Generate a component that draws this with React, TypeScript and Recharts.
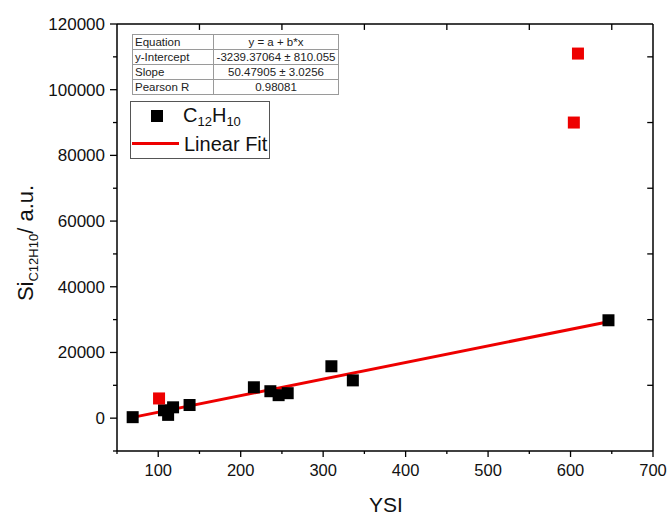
import React from 'react';
import { ScatterChart, Scatter, XAxis, YAxis, ReferenceLine } from 'recharts';

// YSI vs signal, C12H10
const blackX = [69, 107, 112, 118, 138, 216, 236, 246, 257, 310, 336, 646];
const blackY = [300, 2400, 1000, 3300, 4000, 9400, 8200, 7000, 7600, 15800, 11500, 29800];
const redX = [101, 604, 609];
const redY = [6000, 90000, 111000];

// fit parameters as printed in the table
const intercept = -3239.37064;
const slope = 50.47905;
const fitX = [69, 646];

const xDomain = [50, 700];
const yDomain = [-10000, 120000];
const xTicks = [50, 100, 150, 200, 250, 300, 350, 400, 450, 500, 550, 600, 650, 700];
const xTopTicks = [150, 250, 350, 450, 550, 650];
const yTicks = [-10000, 0, 10000, 20000, 30000, 40000, 50000, 60000, 70000, 80000, 90000, 100000, 110000, 120000];
const yRightTicks = [10000, 30000, 50000, 70000, 90000, 110000];

const tableRows = [
  ['Equation', 'y = a + b*x'],
  ['y-Intercept', '-3239.37064 ± 810.055'],
  ['Slope', '50.47905 ± 3.0256'],
  ['Pearson R', '0.98081'],
];

const black = blackX.map((x, i) => ({ x, y: blackY[i] }));
const red = redX.map((x, i) => ({ x, y: redY[i] }));

const FONT = '"Liberation Sans", Arial, sans-serif';

// inner tick lengths of the frame, in data units (~6px)
const topTickLen = 1800;
const rightTickLen = 7;

function BottomTick(props: any) {
  const { x, y, payload } = props;
  const major = payload.value % 100 === 0;
  return (
    <g>
      <line x1={x} x2={x} y1={y} y2={y + (major ? 6 : 3)} stroke='#000' strokeWidth={1.3} />
      {major && (
        <text x={x} y={y + 25} textAnchor='middle' fontSize={16.5} fontFamily={FONT} fill='#111'>
          {payload.value}
        </text>
      )}
    </g>
  );
}

function LeftTick(props: any) {
  const { x, y, payload } = props;
  const major = payload.value % 20000 === 0;
  return (
    <g>
      <line x1={x - (major ? 7 : 4)} x2={x} y1={y} y2={y} stroke='#000' strokeWidth={1.3} />
      {major && (
        <text x={x - 12} y={y + 6} textAnchor='end' fontSize={17} fontFamily={FONT} fill='#111'>
          {payload.value}
        </text>
      )}
    </g>
  );
}

const square = (color: string) => (p: any) => (
  <rect x={p.cx - 6} y={p.cy - 6} width={12} height={12} fill={color} />
);

export default function App() {
  return (
    <div style={{ position: 'absolute', left: 0, top: 0, width: 667, height: 515, background: '#fff' }}>
      <ScatterChart width={667} height={515} margin={{ top: 24, right: 14, left: 0, bottom: 0 }}>
        <XAxis
          type='number'
          dataKey='x'
          domain={xDomain}
          ticks={xTicks}
          interval={0}
          height={64}
          tickSize={0}
          tickMargin={0}
          tickLine={false}
          tick={<BottomTick />}
          axisLine={{ stroke: '#000', strokeWidth: 1.5 }}
          allowDataOverflow
        />
        <YAxis
          type='number'
          dataKey='y'
          domain={yDomain}
          ticks={yTicks}
          interval={0}
          width={117}
          tickSize={0}
          tickMargin={0}
          tickLine={false}
          tick={<LeftTick />}
          axisLine={{ stroke: '#000', strokeWidth: 1.5 }}
          allowDataOverflow
        />

        {/* top and right frame with inward ticks */}
        <ReferenceLine y={yDomain[1]} stroke='#000' strokeWidth={1.5} ifOverflow='visible' />
        <ReferenceLine x={xDomain[1]} stroke='#000' strokeWidth={1.5} ifOverflow='visible' />
        {xTopTicks.map((v) => (
          <ReferenceLine
            key={'t' + v}
            segment={[{ x: v, y: yDomain[1] }, { x: v, y: yDomain[1] - topTickLen }]}
            stroke='#000'
            strokeWidth={1.3}
            ifOverflow='visible'
          />
        ))}
        {yRightTicks.map((v) => (
          <ReferenceLine
            key={'r' + v}
            segment={[{ x: xDomain[1] - rightTickLen, y: v }, { x: xDomain[1], y: v }]}
            stroke='#000'
            strokeWidth={1.3}
            ifOverflow='visible'
          />
        ))}

        <ReferenceLine
          segment={fitX.map((x) => ({ x, y: intercept + slope * x }))}
          stroke='#ee0000'
          strokeWidth={3}
          ifOverflow='visible'
        />

        <Scatter data={black} shape={square('#000')} isAnimationActive={false} />
        <Scatter data={red} shape={square('#ee0000')} isAnimationActive={false} />
      </ScatterChart>

      {/* axis titles */}
      <svg width={667} height={515} style={{ position: 'absolute', left: 0, top: 0, pointerEvents: 'none' }}>
        <text
          transform='translate(33,243) rotate(-90)'
          textAnchor='middle'
          fontFamily={FONT}
          fontSize={22}
          fill='#111'
        >
          Si
          <tspan fontSize={13} dy={5}>C12H10</tspan>
          <tspan dy={-5}>/ a.u.</tspan>
        </text>
        <text x={386} y={512} textAnchor='middle' fontFamily={FONT} fontSize={21} fill='#111'>
          YSI
        </text>
      </svg>

      {/* fit table */}
      <table
        style={{
          position: 'absolute',
          left: 132,
          top: 34,
          borderCollapse: 'collapse',
          fontFamily: FONT,
          fontSize: 11.5,
          color: '#222',
          background: '#fff',
          whiteSpace: 'nowrap',
        }}
      >
        <tbody>
          {tableRows.map(([k, v]) => (
            <tr key={k}>
              <td style={{ border: '1px solid #9a9a9a', padding: '0 2px', width: 76, height: 14, lineHeight: '14px' }}>{k}</td>
              <td style={{ border: '1px solid #9a9a9a', padding: '0 2px', width: 120, height: 14, textAlign: 'center', lineHeight: '14px' }}>{v}</td>
            </tr>
          ))}
        </tbody>
      </table>

      {/* legend */}
      <div
        style={{
          position: 'absolute',
          left: 130,
          top: 101,
          width: 138,
          height: 56,
          border: '1px solid #555',
          background: '#fff',
          fontFamily: FONT,
          fontSize: 20,
          color: '#111',
        }}
      >
        <div style={{ position: 'absolute', left: 20, top: 8, width: 12, height: 12, background: '#000' }} />
        <div style={{ position: 'absolute', left: 52, top: 1, lineHeight: '24px' }}>
          C<sub style={{ fontSize: 13, verticalAlign: '-4px' }}>12</sub>H<sub style={{ fontSize: 13, verticalAlign: '-4px' }}>10</sub>
        </div>
        <div style={{ position: 'absolute', left: 1, top: 40, width: 47, height: 3, background: '#ee0000' }} />
        <div style={{ position: 'absolute', left: 53, top: 30, lineHeight: '24px' }}>Linear Fit</div>
      </div>
    </div>
  );
}
